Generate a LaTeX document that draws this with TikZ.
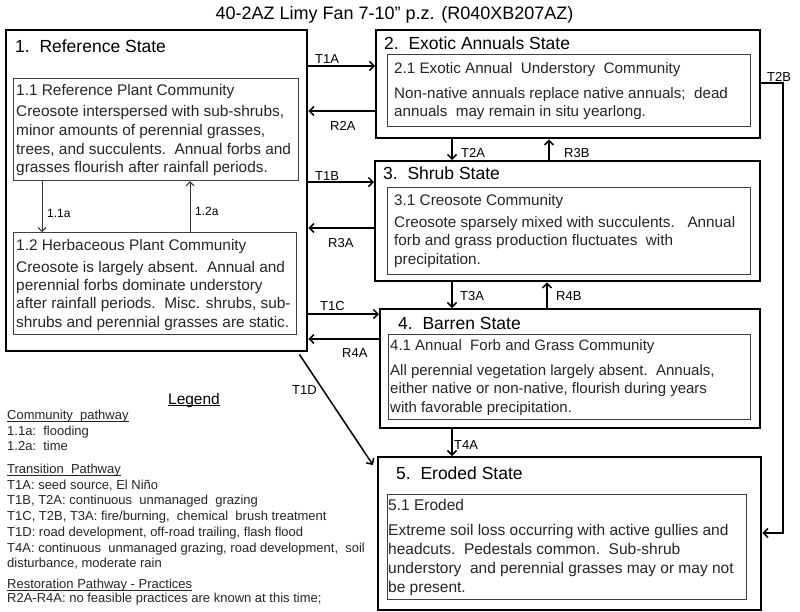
\documentclass[tikz,border=0pt]{standalone}
\usepackage{fontspec}
\setmainfont{Liberation Sans}
\usetikzlibrary{arrows.meta,calc}
\newcommand\myul[1]{\setbox0\hbox{#1}\rlap{\rule[-1.8pt]{\wd0}{0.6pt}}\box0}
\begin{document}
\begin{tikzpicture}[x=1pt,y=-1pt,
  sbox/.style={draw=black, line width=2.4pt, inner sep=0pt, anchor=north west},
  cbox/.style={draw=black!75, line width=1.1pt, inner sep=0pt, anchor=north west},
  arr/.style={draw=black, line width=1.5pt, -{Straight Barb[length=4.5pt,width=9pt]}},
  tarr/.style={draw=black!80, line width=1pt, -{Straight Barb[length=4pt,width=8pt]}},
  ttl/.style={font=\fontsize{18}{20}\selectfont, inner sep=0pt},
  st/.style={font=\fontsize{17.5}{20}\selectfont, inner sep=0pt, anchor=base west},
  body/.style={font=\fontsize{#1}{19}\selectfont, inner sep=0pt, anchor=base west, text=black!85},
  body/.default=15.3,
  lab/.style={font=\fontsize{13}{15}\selectfont, inner sep=0pt, anchor=base west},
  slab/.style={font=\fontsize{12}{14}\selectfont, inner sep=0pt, anchor=base west},
  lg/.style={font=\fontsize{13}{15}\selectfont, inner sep=0pt, anchor=base west, text=black!85}]
\useasboundingbox (0,0) rectangle (800,611);
\fill[white] (0,0) rectangle (800,611);

% title
\node[ttl, anchor=base] (title) at (394.5,19) {40-2AZ Limy Fan 7-10” p.z. (R040XB207AZ)};

% state boxes
\node[sbox, minimum width=301pt, minimum height=321pt] (b1) at (5,29) {};
\node[sbox, minimum width=384pt, minimum height=108pt] (b2) at (375,29) {};
\node[sbox, minimum width=385pt, minimum height=120pt] (b3) at (374,160) {};
\node[sbox, minimum width=380pt, minimum height=119pt] (b4) at (379,308) {};
\node[sbox, minimum width=383pt, minimum height=153pt] (b5) at (377,456) {};
% community boxes
\node[cbox, minimum width=285pt, minimum height=102pt] (b11) at (13,78) {};
\node[cbox, minimum width=283pt, minimum height=102pt] (b12) at (13,232) {};
\node[cbox, minimum width=363pt, minimum height=72pt] (b21) at (387,54) {};
\node[cbox, minimum width=363pt, minimum height=87pt] (b31) at (387,187) {};
\node[cbox, minimum width=362pt, minimum height=85pt] (b41) at (388,334) {};
\node[cbox, minimum width=359pt, minimum height=105pt] (b51) at (387,494) {};

% state titles
\node[st] (s1) at (15,52) {1.\ \ Reference State};
\node[st] (s2) at (384,49) {2.\ \ Exotic Annuals State};
\node[st] (s3) at (383,179) {3.\ \ Shrub State};
\node[st] (s4) at (398,329) {4.\ \ Barren State};
\node[st] (s5) at (396,479) {5.\ \ Eroded State};

% community texts
\foreach \yy/\txt [count=\i] in {95/{1.1 Reference Plant Community},
  116.5/{Creosote interspersed with sub-shrubs,},
  135/{minor amounts of perennial grasses,},
  154/{trees, and succulents.\ \ Annual forbs and},
  172.5/{grasses flourish after rainfall periods.}}
  \node[body=15.4] (t11-\i) at (16,\yy) {\txt};
\foreach \yy/\txt [count=\i] in {250.5/{1.2 Herbaceous Plant Community},
  272/{Creosote is largely absent.\ \ Annual and},
  290.5/{perennial forbs dominate understory},
  308.5/{after rainfall periods.\ \ Misc. shrubs, sub-},
  327/{shrubs and perennial grasses are static.}}
  \node[body=15.4] (t12-\i) at (16,\yy) {\txt};
\foreach \yy/\txt [count=\i] in {73.5/{2.1 Exotic Annual\ \ Understory\ \ Community},
  98.5/{Non-native annuals replace native annuals;\ \ dead},
  116.5/{annuals\ \ may remain in situ yearlong.}}
  \node[body=15.2] (t21-\i) at (394,\yy) {\txt};
\foreach \yy/\txt [count=\i] in {205.5/{3.1 Creosote Community},
  227.5/{Creosote sparsely mixed with succulents.\ \ \ Annual},
  245.5/{forb and grass production fluctuates\ \ with},
  264.5/{precipitation.}}
  \node[body=15.3] (t31-\i) at (394,\yy) {\txt};
\foreach \yy/\txt [count=\i] in {350.5/{4.1 Annual\ \ Forb and Grass Community},
  375.5/{All perennial vegetation largely absent.\ \ Annuals,},
  393.5/{either native or non-native, flourish during years},
  412.5/{with favorable precipitation.}}
  \node[body=15] (t41-\i) at (390,\yy) {\txt};
\foreach \yy/\txt [count=\i] in {510.5/{5.1 Eroded},
  535.5/{Extreme soil loss occurring with active gullies and},
  554.5/{headcuts.\ \ Pedestals common.\ \ Sub-shrub},
  573.5/{understory\ \ and perennial grasses may or may not},
  592.5/{be present.}}
  \node[body=15.5] (t51-\i) at (388,\yy) {\txt};

% transitions between box 1 and others
\draw[arr] (b1.east |- 0,66) -- (b2.west |- 0,66);
\node[lab] (lT1A) at (315,63) {T1A};
\draw[arr] (b2.west |- 0,111) -- (b1.east |- 0,111);
\node[lab] (lR2A) at (330,130) {R2A};
\draw[arr] (b1.east |- 0,182) -- (b3.west |- 0,182);
\node[lab] (lT1B) at (315,180) {T1B};
\draw[arr] (b3.west |- 0,228) -- (b1.east |- 0,228);
\node[lab] (lR3A) at (328,247) {R3A};
\draw[arr] (b1.east |- 0,314) -- (b4.west |- 0,314);
\node[lab] (lT1C) at (320,310) {T1C};
\draw[arr] (b4.west |- 0,339) -- (b1.east |- 0,339);
\node[lab] (lR4A) at (342,357) {R4A};
\draw[arr] ($(b1.south east)+(-9,2)$) -- ($(b5.north west)+(-4,9)$);
\node[lab] (lT1D) at (292,394) {T1D};

% vertical transitions
\draw[arr] (b2.south -| 452,0) -- (b3.north -| 452,0);
\node[lab] (lT2A) at (461,157) {T2A};
\draw[arr] (b3.north -| 549,0) -- (b2.south -| 549,0);
\node[lab] (lR3B) at (564,157) {R3B};
\draw[arr] (b3.south -| 452,0) -- (b4.north -| 452,0);
\node[lab] (lT3A) at (460,300) {T3A};
\draw[arr] (b4.north -| 547,0) -- (b3.south -| 547,0);
\node[lab] (lR4B) at (556,300) {R4B};
\draw[arr] (b4.south -| 452,0) -- (b5.north -| 452,0);
\node[lab] (lT4A) at (454,449) {T4A};

% T2B
\coordinate (t2bc) at (783,533);
\draw[arr] (b2.east |- 0,83) -| (t2bc) -- (b5.east |- 0,533);
\node[lab] (lT2B) at (767,81) {T2B};

% community pathways
\draw[tarr] (b11.south -| 42,0) -- (b12.north -| 42,0);
\node[slab] (l11a) at (47,217) {1.1a};
\draw[tarr] (b12.north -| 190,0) -- (b11.south -| 190,0);
\node[slab] (l12a) at (195,215) {1.2a};

% legend
\node[font=\fontsize{15.5}{18}\selectfont, inner sep=0pt, anchor=base] (leg) at (194,404) {\myul{Legend}};
\foreach \yy/\txt [count=\i] in {419.5/{\myul{Community\ \ pathway}},
  435/{1.1a:\ \ flooding},
  450.5/{1.2a:\ \ time},
  473.5/{\myul{Transition\ \ Pathway}},
  489.5/{T1A: seed source, El Niño},
  504.5/{T1B, T2A: continuous\ \ unmanaged\ \ grazing},
  520.5/{T1C, T2B, T3A: fire/burning,\ \ chemical\ \ brush treatment},
  536/{T1D: road development, off-road trailing, flash flood},
  552/{T4A: continuous\ \ unmanaged grazing, road development,\ \ soil},
  567/{disturbance, moderate rain},
  588.5/{\myul{Restoration Pathway - Practices}},
  602.5/{R2A-R4A: no feasible practices are known at this time;}}
  \node[lg] (lg-\i) at (7,\yy) {\txt};
\end{tikzpicture}
\end{document}
